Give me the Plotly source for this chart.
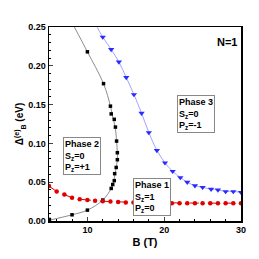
import plotly.graph_objects as go

# Phase boundary 1/2 (black squares)
black_B = [5.05, 8.0, 10.0, 12.0, 13.1, 13.3, 13.5, 13.55, 13.75, 13.9, 13.9, 13.8, 13.65, 13.5, 13.1, 13.0, 12.1, 10.0]
black_D = [0.002, 0.008, 0.014, 0.027, 0.042, 0.047, 0.052, 0.061, 0.069, 0.079, 0.088, 0.103, 0.121, 0.131, 0.138, 0.148, 0.177, 0.218]
black_line_B = [5.0, 8.0, 10.0, 12.0, 13.1, 13.5, 13.75, 13.9, 13.9, 13.8, 13.6, 13.3, 13.0, 12.1, 10.0, 8.3]
black_line_D = [0.001, 0.008, 0.014, 0.027, 0.042, 0.055, 0.069, 0.079, 0.088, 0.103, 0.122, 0.134, 0.148, 0.177, 0.218, 0.25]

# Phase boundary 1 (red circles)
red_B = list(range(5, 31))
red_D = [0.045, 0.038, 0.034, 0.030, 0.028, 0.027, 0.026, 0.0255, 0.025, 0.0245, 0.024, 0.024, 0.0238,
         0.0236, 0.0234, 0.0232, 0.023, 0.023, 0.023, 0.023, 0.023, 0.023, 0.023, 0.023, 0.023, 0.023]

# Phase boundary 3 (blue triangles)
blue_B = [11.0, 12.0, 13.1, 14.1, 15.06, 16.06, 17.05, 18.0, 19.05, 20.1, 21.1, 22.1, 23.0, 24.0, 25.0, 26.1, 27.0, 28.0, 29.0, 30.0]
blue_D = [0.255, 0.237, 0.221, 0.205, 0.185, 0.163, 0.139, 0.114, 0.091, 0.075, 0.064, 0.056, 0.050, 0.0455, 0.0434, 0.041, 0.040, 0.038, 0.038, 0.037]

x_ticks = [10, 20, 30]
y_ticks = [0.00, 0.05, 0.10, 0.15, 0.20, 0.25]
y_tick_labels = ["0.00", "0.05", "0.10", "0.15", "0.20", "0.25"]

FONT = "Liberation Sans, Arial, sans-serif"

fig = go.Figure()
fig.add_trace(go.Scatter(x=black_line_B, y=black_line_D, mode="lines", line=dict(color="#707070", width=0.8, shape="spline"), hoverinfo="skip"))
fig.add_trace(go.Scatter(x=black_B, y=black_D, mode="markers", marker=dict(symbol="square", size=3.5, color="black")))
fig.add_trace(go.Scatter(x=red_B, y=red_D, mode="lines+markers", line=dict(color="#e00000", width=1, dash="dash"), marker=dict(symbol="circle", size=4.5, color="#e00000")))
fig.add_trace(go.Scatter(x=blue_B, y=blue_D, mode="lines+markers", line=dict(color="#8c8cff", width=0.8, shape="spline"), marker=dict(symbol="triangle-down", size=5.5, color="#2a2aff")))

box_common = dict(xref="x", yref="y", showarrow=False, align="left", bgcolor="white",
                  bordercolor="#888888", borderwidth=1, borderpad=1,
                  font=dict(family=FONT, size=9, color="black"))
fig.add_annotation(x=24.15, y=0.138, text="<b>Phase 3<br>S<sub>z</sub>=0<br>P<sub>z</sub>=-1</b>", **box_common)
fig.add_annotation(x=9.35, y=0.084, text="<b>Phase 2<br>S<sub>z</sub>=0<br>P<sub>z</sub>=+1</b>", **box_common)
fig.add_annotation(x=18.4, y=0.0306, text="<b>Phase 1<br>S<sub>z</sub>=1<br>P<sub>z</sub>=0</b>", **box_common)
fig.add_annotation(x=28.2, y=0.231, xref="x", yref="y", showarrow=False, text="<b>N=1</b>",
                   font=dict(family=FONT, size=11, color="black"))

fig.update_layout(
    width=259, height=259,
    margin=dict(l=49, r=18, t=27, b=36),
    paper_bgcolor="white", plot_bgcolor="white",
    showlegend=False,
    font=dict(family=FONT, color="black"),
)
fig.update_xaxes(range=[5, 30], tickvals=x_ticks, ticks="inside", ticklen=4, tickwidth=1,
                 minor=dict(dtick=2, ticks="inside", ticklen=2, tickcolor="black"),
                 showgrid=False, zeroline=False, showline=True, linecolor="black", linewidth=1.5, mirror=True,
                 tickfont=dict(family=FONT, size=9, color="black", weight="bold"),
                 title=dict(text="<b>B (T)</b>", font=dict(family=FONT, size=11), standoff=4))
fig.update_yaxes(range=[0, 0.25], tickvals=y_ticks, ticktext=[f"<b>{t}</b>" for t in y_tick_labels],
                 ticks="inside", ticklen=4, tickwidth=1,
                 minor=dict(dtick=0.01, ticks="inside", ticklen=2, tickcolor="black"),
                 showgrid=False, zeroline=False, showline=True, linecolor="black", linewidth=1.5, mirror=True,
                 tickfont=dict(family=FONT, size=9, color="black"),
                 title=dict(text="<b>Δ<sup>(e)</sup><sub>B</sub> (eV)</b>", font=dict(family=FONT, size=10), standoff=2))

fig.write_html("out.html", config={"displayModeBar": False, "staticPlot": True},
               post_script="document.body.style.margin='0';document.body.style.overflow='hidden';")
